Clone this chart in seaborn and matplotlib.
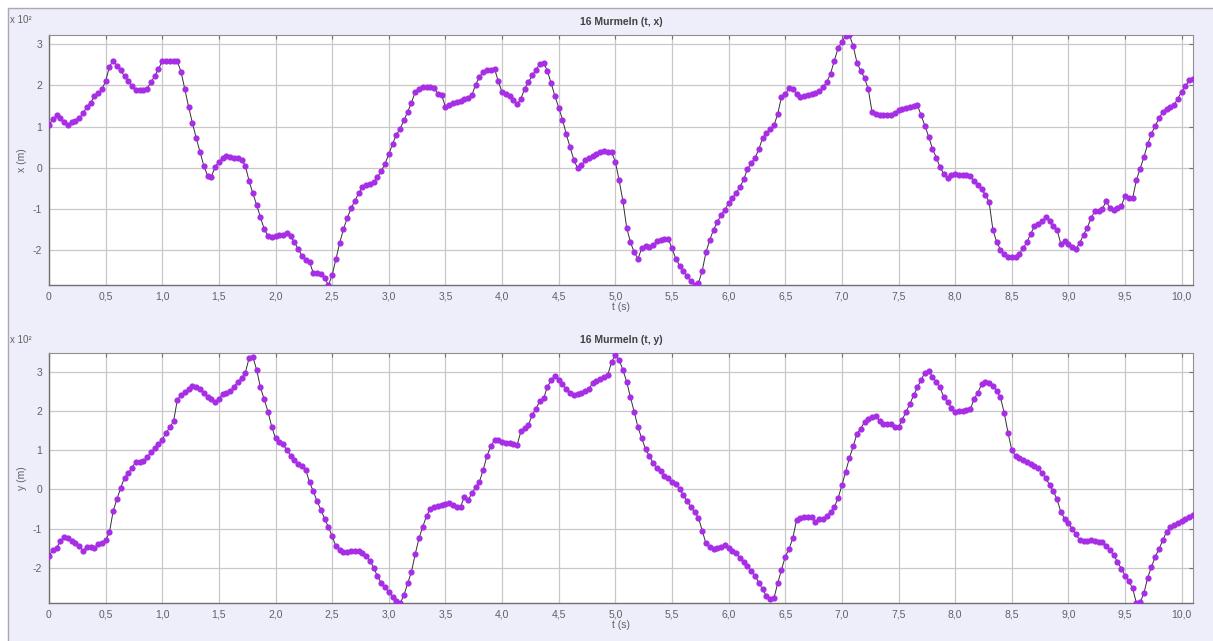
import numpy as np
import pandas as pd
import seaborn as sns
import matplotlib.pyplot as plt
from matplotlib.lines import Line2D
from matplotlib.patches import Rectangle
from matplotlib.ticker import FuncFormatter, MultipleLocator

# Frame rate of the video analysis (frames per second)
frame_rate = 30

# Horizontal position x of the marble, in units of 10^2 m (one value per frame)
x_pos = [
    1.03, 1.18, 1.27, 1.22, 1.12, 1.04, 1.12, 1.14, 1.20, 1.32, 1.47, 1.58, 1.73, 1.82, 1.90,
    2.10, 2.45, 2.60, 2.48, 2.36, 2.22, 2.10, 1.98, 1.89, 1.88, 1.89, 1.92, 2.08, 2.22, 2.40,
    2.58, 2.58, 2.59, 2.60, 2.58, 2.32, 1.90, 1.47, 1.08, 0.72, 0.38, 0.05, -0.19, -0.21, 0.02,
    0.15, 0.23, 0.28, 0.26, 0.24, 0.23, 0.20, 0.05, -0.32, -0.62, -0.90, -1.20, -1.48, -1.65, -1.68,
    -1.65, -1.63, -1.62, -1.58, -1.66, -1.80, -1.97, -2.13, -2.24, -2.28, -2.55, -2.56, -2.58, -2.66, -2.85,
    -2.60, -2.21, -1.82, -1.48, -1.22, -0.98, -0.80, -0.62, -0.47, -0.41, -0.38, -0.35, -0.22, -0.08, 0.10,
    0.33, 0.58, 0.80, 0.95, 1.15, 1.36, 1.58, 1.84, 1.90, 1.95, 1.96, 1.96, 1.93, 1.80, 1.76,
    1.48, 1.52, 1.57, 1.60, 1.63, 1.66, 1.69, 1.76, 2.02, 2.20, 2.33, 2.38, 2.38, 2.40, 2.10,
    1.83, 1.79, 1.75, 1.65, 1.54, 1.68, 1.92, 2.08, 2.24, 2.38, 2.52, 2.55, 2.35, 2.05, 1.74,
    1.46, 1.17, 0.82, 0.50, 0.20, -0.01, 0.06, 0.18, 0.24, 0.28, 0.33, 0.39, 0.40, 0.39, 0.38,
    0.15, -0.30, -0.80, -1.45, -1.80, -2.05, -2.20, -1.95, -1.90, -1.91, -1.88, -1.77, -1.75, -1.73, -1.72,
    -1.95, -2.20, -2.37, -2.50, -2.63, -2.74, -2.83, -2.80, -2.50, -2.05, -1.75, -1.50, -1.32, -1.14, -1.02,
    -0.86, -0.74, -0.60, -0.47, -0.28, -0.03, 0.12, 0.24, 0.45, 0.72, 0.84, 0.93, 1.03, 1.30, 1.72,
    1.78, 1.93, 1.90, 1.80, 1.72, 1.74, 1.77, 1.80, 1.82, 1.86, 1.95, 2.08, 2.28, 2.60, 2.90,
    3.05, 3.20, 3.22, 2.95, 2.55, 2.35, 2.18, 1.90, 1.35, 1.30, 1.29, 1.29, 1.28, 1.28, 1.33,
    1.40, 1.42, 1.45, 1.48, 1.50, 1.52, 1.27, 1.02, 0.75, 0.46, 0.25, 0.02, -0.15, -0.25, -0.17,
    -0.16, -0.17, -0.17, -0.18, -0.20, -0.32, -0.42, -0.52, -0.65, -0.83, -1.50, -1.80, -1.98, -2.10, -2.16,
    -2.16, -2.15, -2.08, -1.95, -1.80, -1.60, -1.42, -1.35, -1.30, -1.20, -1.30, -1.42, -1.50, -1.85, -1.78,
    -1.85, -1.92, -1.96, -1.82, -1.62, -1.45, -1.22, -1.05, -1.04, -1.00, -0.80, -0.98, -1.02, -0.98, -0.93,
    -0.68, -0.72, -0.74, -0.30, -0.02, 0.26, 0.58, 0.83, 1.02, 1.20, 1.36, 1.43, 1.48, 1.53, 1.68,
    1.85, 1.98, 2.12, 2.16,
]

# Vertical position y of the marble, in units of 10^2 m (one value per frame)
y_pos = [
    -1.70, -1.55, -1.49, -1.33, -1.21, -1.25, -1.33, -1.38, -1.45, -1.57, -1.47, -1.48, -1.49, -1.40, -1.38,
    -1.30, -1.10, -0.55, -0.25, 0.04, 0.30, 0.42, 0.55, 0.71, 0.71, 0.72, 0.82, 0.95, 1.05, 1.15,
    1.27, 1.44, 1.58, 1.74, 2.29, 2.40, 2.48, 2.56, 2.63, 2.61, 2.56, 2.46, 2.35, 2.30, 2.22,
    2.30, 2.44, 2.46, 2.51, 2.62, 2.74, 2.84, 2.98, 3.35, 3.38, 3.05, 2.60, 2.30, 1.98, 1.60,
    1.30, 1.22, 1.15, 1.00, 0.86, 0.76, 0.66, 0.60, 0.50, 0.18, -0.05, -0.30, -0.52, -0.75, -0.96,
    -1.20, -1.45, -1.55, -1.61, -1.60, -1.58, -1.57, -1.57, -1.62, -1.70, -1.82, -2.00, -2.22, -2.38, -2.50,
    -2.62, -2.74, -2.85, -2.91, -2.70, -2.40, -2.10, -1.65, -1.25, -0.95, -0.68, -0.50, -0.46, -0.43, -0.40,
    -0.38, -0.36, -0.40, -0.44, -0.45, -0.19, -0.28, -0.10, 0.05, 0.19, 0.50, 0.85, 1.10, 1.25, 1.27,
    1.22, 1.19, 1.18, 1.16, 1.14, 1.48, 1.56, 1.65, 1.90, 2.06, 2.25, 2.32, 2.62, 2.78, 2.90,
    2.80, 2.68, 2.56, 2.46, 2.42, 2.44, 2.46, 2.50, 2.56, 2.72, 2.76, 2.82, 2.88, 2.92, 3.25,
    3.43, 3.30, 3.05, 2.75, 2.35, 1.98, 1.58, 1.30, 1.03, 0.85, 0.68, 0.55, 0.46, 0.34, 0.28,
    0.20, 0.13, 0.02, -0.15, -0.30, -0.45, -0.58, -0.72, -1.05, -1.38, -1.48, -1.51, -1.50, -1.46, -1.42,
    -1.50, -1.58, -1.62, -1.75, -1.86, -1.96, -2.08, -2.20, -2.38, -2.55, -2.72, -2.80, -2.78, -2.40, -2.05,
    -1.72, -1.52, -1.25, -0.78, -0.73, -0.71, -0.70, -0.70, -0.83, -0.76, -0.75, -0.68, -0.57, -0.45, -0.22,
    0.10, 0.45, 0.80, 1.10, 1.42, 1.55, 1.72, 1.80, 1.84, 1.86, 1.75, 1.67, 1.67, 1.66, 1.60,
    1.58, 1.78, 1.98, 2.18, 2.40, 2.60, 2.80, 2.98, 3.02, 2.88, 2.74, 2.60, 2.35, 2.24, 2.08,
    1.98, 2.00, 2.01, 2.02, 2.04, 2.30, 2.47, 2.68, 2.74, 2.72, 2.64, 2.52, 2.35, 1.95, 1.45,
    1.00, 0.85, 0.80, 0.74, 0.69, 0.65, 0.60, 0.55, 0.42, 0.28, 0.12, -0.05, -0.25, -0.58, -0.75,
    -0.87, -1.00, -1.15, -1.30, -1.32, -1.31, -1.30, -1.32, -1.34, -1.34, -1.45, -1.55, -1.68, -1.85, -2.02,
    -2.20, -2.35, -2.52, -2.90, -2.88, -2.65, -2.25, -1.98, -1.72, -1.52, -1.30, -1.08, -0.96, -0.90, -0.85,
    -0.80, -0.76, -0.70, -0.66,
]

titles = ["16 Murmeln (t, x)", "16 Murmeln (t, y)"]
y_labels = ["x (m)", "y (m)"]
x_label = "t (s)"
offset_label = "x 10\u00b2"

t = np.arange(len(x_pos)) / frame_rate
df = pd.DataFrame({"t": t, "x": x_pos, "y": y_pos})

sns.set_theme(style="white")
plt.rcParams["font.family"] = ["Liberation Sans", "DejaVu Sans"]

W, H = 1213, 641
fig = plt.figure(figsize=(W / 100, H / 100), dpi=100)
fig.patch.set_facecolor("white")

# Lavender panel with a thin grey border on the top and left
fig.add_artist(Rectangle((8 / W, 0), 1 - 8 / W, 1 - 8 / H, transform=fig.transFigure,
                         facecolor="#eeeefb", edgecolor="none", zorder=-10))
fig.add_artist(Line2D([8 / W, 1], [1 - 8 / H, 1 - 8 / H], transform=fig.transFigure,
                      color="#a8a8b8", lw=1.0))
fig.add_artist(Line2D([8 / W, 8 / W], [0, 1 - 8 / H], transform=fig.transFigure,
                      color="#a8a8b8", lw=1.0))

purple = "#a82ee6"
ax_left, ax_width, ax_height = 49 / W, 1144 / W, 250 / H
layouts = [
    (1 - 285 / H, "x", (-2.84, 3.22), 20),
    (1 - 603 / H, "y", (-2.90, 3.48), 340),
]

comma = FuncFormatter(lambda v, _: "0" if abs(v) < 1e-9 else f"{v:.1f}".replace(".", ","))
integer = FuncFormatter(lambda v, _: f"{int(round(v))}")

for i, (bottom, col, ylim, off_y) in enumerate(layouts):
    ax = fig.add_axes([ax_left, bottom, ax_width, ax_height])
    ax.set_facecolor("white")
    sns.lineplot(data=df, x="t", y=col, ax=ax, color="#303030", lw=0.7,
                 estimator=None, sort=False, zorder=3)
    sns.scatterplot(data=df, x="t", y=col, ax=ax, color=purple, s=20,
                    edgecolor=purple, linewidth=0, zorder=4)
    ax.set_xlim(0, 10.1)
    ax.set_ylim(*ylim)
    ax.xaxis.set_major_locator(MultipleLocator(0.5))
    ax.yaxis.set_major_locator(MultipleLocator(1))
    ax.xaxis.set_major_formatter(comma)
    ax.yaxis.set_major_formatter(integer)
    ax.grid(True, color="#c8c8c8", lw=0.9)
    ax.set_axisbelow(True)
    ax.tick_params(axis="both", which="major", direction="in", length=3, width=0.8,
                   color="#707070", labelsize=7.5, labelcolor="#606060", pad=5,
                   top=True, right=True)
    for side in ("left", "bottom"):
        ax.spines[side].set_color("#707070")
        ax.spines[side].set_linewidth(1.0)
    for side in ("top", "right"):
        ax.spines[side].set_color("#909090")
        ax.spines[side].set_linewidth(0.8)
    ax.set_title(titles[i], fontsize=7.5, fontweight="bold", color="#404040", pad=7)
    ax.set_xlabel(x_label, fontsize=7.5, color="#606060", labelpad=0)
    ax.set_ylabel(y_labels[i], fontsize=7.5, color="#606060", labelpad=4)
    fig.text(10 / W, 1 - off_y / H, offset_label, fontsize=7, color="#606060",
             ha="left", va="center")

fig.savefig("out.png", dpi=100, facecolor=fig.get_facecolor())
